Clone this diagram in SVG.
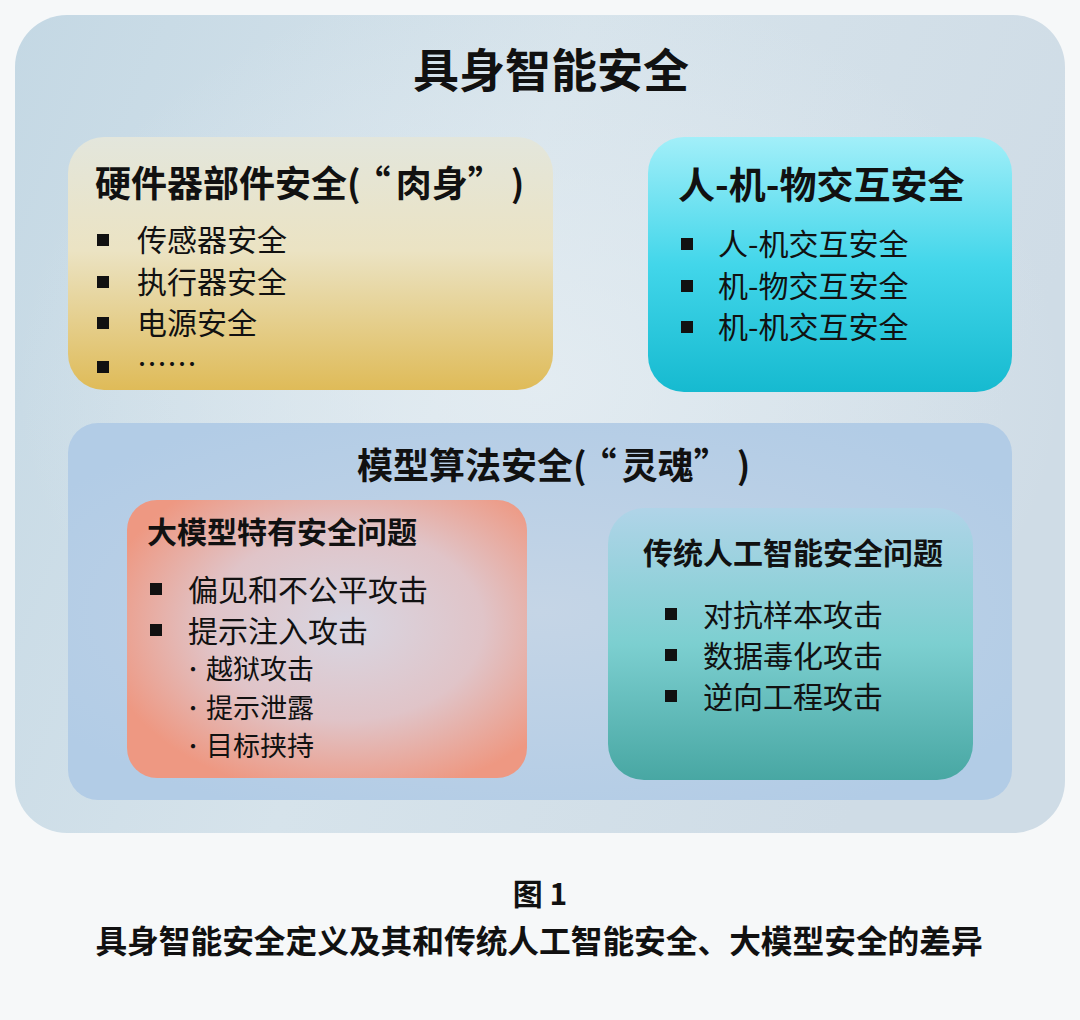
<svg xmlns="http://www.w3.org/2000/svg" width="1080" height="1020" viewBox="0 0 1080 1020">
<defs>
<linearGradient id="gOuter" x1="0" y1="0" x2="1" y2="0.3">
<stop offset="0" stop-color="#c4d8e4"/>
<stop offset="0.5" stop-color="#d6e3eb"/>
<stop offset="1" stop-color="#cfdce6"/>
</linearGradient>
<radialGradient id="gOuterHi" cx="0.5" cy="0.45" r="0.5">
<stop offset="0" stop-color="#e6eef3" stop-opacity="0.8"/>
<stop offset="1" stop-color="#e6eef3" stop-opacity="0"/>
</radialGradient>
<linearGradient id="gYellow" x1="0" y1="0" x2="0" y2="1">
<stop offset="0" stop-color="#e3e6dc"/>
<stop offset="0.45" stop-color="#ebe3c3"/>
<stop offset="1" stop-color="#dfbb58"/>
</linearGradient>
<linearGradient id="gCyan" x1="0" y1="0" x2="0" y2="1">
<stop offset="0" stop-color="#a2eff9"/>
<stop offset="0.5" stop-color="#42d6ea"/>
<stop offset="1" stop-color="#16bad0"/>
</linearGradient>
<radialGradient id="gBlue" cx="0.5" cy="0.5" r="0.6">
<stop offset="0" stop-color="#c5d5e6"/>
<stop offset="1" stop-color="#b2cce6"/>
</radialGradient>
<radialGradient id="gRed" cx="0.55" cy="0.45" r="0.62">
<stop offset="0" stop-color="#d8d6e2"/>
<stop offset="0.55" stop-color="#e0c4c8"/>
<stop offset="1" stop-color="#ee9882"/>
</radialGradient>
<linearGradient id="gTeal" x1="0" y1="0" x2="0" y2="1">
<stop offset="0" stop-color="#b0d4e8"/>
<stop offset="0.5" stop-color="#7ccfd0"/>
<stop offset="1" stop-color="#48a7a3"/>
</linearGradient>
</defs>
<style>
text{font-family:"Noto Sans CJK SC","Noto Sans",sans-serif;fill:#111;}
.h{font-weight:700;}
.it{font-size:30px;font-weight:400;}
.it2{font-size:30px;font-weight:400;}
.sub{font-size:27px;font-weight:400;}
.dot{font-size:20px;font-weight:400;}
.b{fill:#111;}
</style>
<rect x="0" y="0" width="1080" height="1020" fill="#f6f8f9"/>
<g id="outer">
<rect x="15" y="15" width="1050" height="818" rx="52" fill="url(#gOuter)"/>
<rect x="15" y="15" width="1050" height="818" rx="52" fill="url(#gOuterHi)"/>
<text class="h" x="551" y="87" font-size="46" text-anchor="middle">具身智能安全</text>
</g>
<g id="hardware">
<rect x="68" y="137" width="485" height="253" rx="36" fill="url(#gYellow)"/>
<text class="h" x="95" y="197" font-size="36">硬件器部件安全(<tspan dx="12">“</tspan><tspan dx="5">肉身</tspan><tspan dx="0">”</tspan><tspan dx="25">)</tspan></text>
<rect class="b" x="97" y="234" width="12" height="12"/>
<text class="it" x="137" y="251">传感器安全</text>
<rect class="b" x="97" y="276" width="12" height="12"/>
<text class="it" x="137" y="293">执行器安全</text>
<rect class="b" x="97" y="317" width="12" height="12"/>
<text class="it" x="137" y="334">电源安全</text>
<rect class="b" x="97" y="361" width="12" height="12"/>
<text class="it" x="137" y="375">……</text>
</g>
<g id="interaction">
<rect x="648" y="137" width="364" height="255" rx="36" fill="url(#gCyan)"/>
<text class="h" x="678" y="199" font-size="37">人-机-物交互安全</text>
<rect class="b" x="681" y="238" width="12" height="12"/>
<text class="it" x="718" y="255">人-机交互安全</text>
<rect class="b" x="681" y="280" width="12" height="12"/>
<text class="it" x="718" y="297">机-物交互安全</text>
<rect class="b" x="681" y="321" width="12" height="12"/>
<text class="it" x="718" y="338">机-机交互安全</text>
</g>
<g id="model">
<rect x="68" y="423" width="944" height="377" rx="30" fill="url(#gBlue)"/>
<text class="h" x="357" y="479" font-size="36">模型算法安全(<tspan dx="12">“</tspan><tspan dx="5">灵魂</tspan><tspan dx="0">”</tspan><tspan dx="25">)</tspan></text>
</g>
<g id="llm">
<rect x="127" y="500" width="400" height="278" rx="30" fill="url(#gRed)"/>
<text class="h" x="147" y="543" font-size="30">大模型特有安全问题</text>
<rect class="b" x="150" y="583" width="12" height="12"/>
<text class="it2" x="188" y="601">偏见和不公平攻击</text>
<rect class="b" x="150" y="624" width="12" height="12"/>
<text class="it2" x="188" y="642">提示注入攻击</text>
<text class="dot" x="183" y="677">·</text>
<text class="sub" x="206" y="679">越狱攻击</text>
<text class="dot" x="183" y="716">·</text>
<text class="sub" x="206" y="718">提示泄露</text>
<text class="dot" x="183" y="754">·</text>
<text class="sub" x="206" y="756">目标挟持</text>
</g>
<g id="traditional">
<rect x="608" y="508" width="365" height="272" rx="36" fill="url(#gTeal)"/>
<text class="h" x="643" y="564" font-size="30">传统人工智能安全问题</text>
<rect class="b" x="665" y="608" width="12" height="12"/>
<text class="it2" x="703" y="626">对抗样本攻击</text>
<rect class="b" x="665" y="649" width="12" height="12"/>
<text class="it2" x="703" y="667">数据毒化攻击</text>
<rect class="b" x="665" y="690" width="12" height="12"/>
<text class="it2" x="703" y="708">逆向工程攻击</text>
</g>
<g id="connectors"/>
<g id="caption">
<text class="h" x="540" y="905" font-size="30" text-anchor="middle">图 1</text>
<text class="h" x="539" y="953" font-size="31.7" text-anchor="middle">具身智能安全定义及其和传统人工智能安全、大模型安全的差异</text>
</g>
</svg>
